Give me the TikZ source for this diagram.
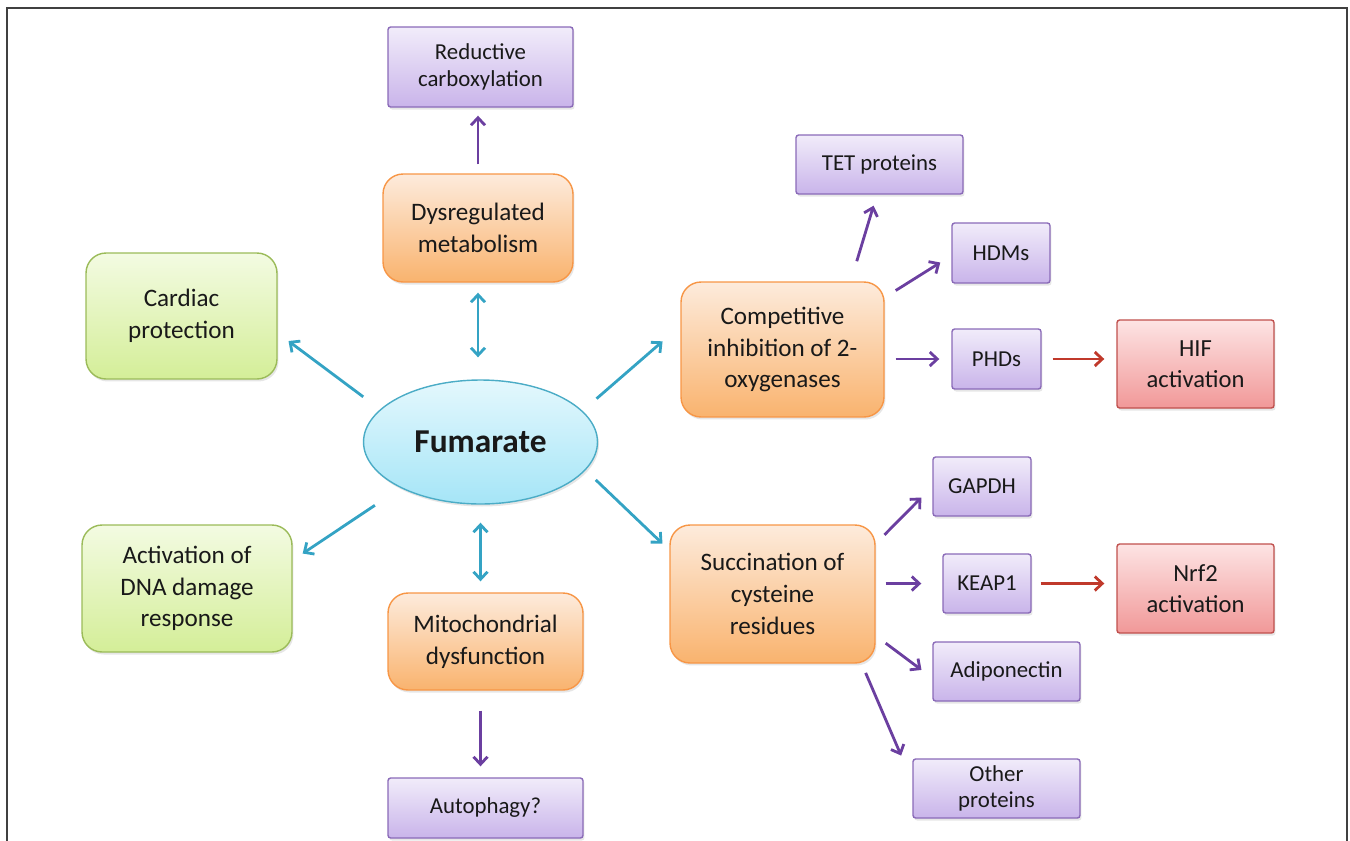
\documentclass[tikz,border=0pt]{standalone}
\usepackage{fontspec}
\setmainfont{Carlito}
\usetikzlibrary{arrows.meta,shapes.geometric,shadows}

\definecolor{purpleline}{HTML}{8A6AB8}
\definecolor{purpletop}{HTML}{F1ECFA}
\definecolor{purplebot}{HTML}{C9B4EA}
\definecolor{orangeline}{HTML}{F79646}
\definecolor{orangetop}{HTML}{FDEBDC}
\definecolor{orangebot}{HTML}{F9B36E}
\definecolor{greenline}{HTML}{9BBB59}
\definecolor{greentop}{HTML}{F3FBE2}
\definecolor{greenbot}{HTML}{D4EE98}
\definecolor{redline}{HTML}{C0504D}
\definecolor{redtop}{HTML}{FDE4E4}
\definecolor{redbot}{HTML}{F19898}
\definecolor{fumline}{HTML}{4BACC6}
\definecolor{fumtop}{HTML}{E4F8FD}
\definecolor{fumbot}{HTML}{A5E5F7}
\definecolor{arrowteal}{HTML}{34A3C4}
\definecolor{arrowpurple}{HTML}{6B3FA0}
\definecolor{arrowred}{HTML}{C0392B}

\begin{document}
\begin{tikzpicture}[x=0.02cm,y=-0.02cm,
	>={Straight Barb[length=1.5mm,width=2.8mm]},
	box/.style={draw,line width=0.8pt,align=center,inner sep=0pt,text=black!90,
		drop shadow={shadow xshift=0.03cm,shadow yshift=-0.05cm,opacity=0.2}},
	purplebox/.style={box,draw=purpleline,top color=purpletop,bottom color=purplebot,
		rounded corners=1.5pt,font=\fontsize{13}{15}\selectfont},
	orangebox/.style={box,draw=orangeline,top color=orangetop,bottom color=orangebot,
		rounded corners=0.4cm,font=\fontsize{14.3}{18}\selectfont},
	greenbox/.style={box,draw=greenline,top color=greentop,bottom color=greenbot,
		rounded corners=0.4cm,font=\fontsize{14.3}{18}\selectfont},
	redbox/.style={box,draw=redline,top color=redtop,bottom color=redbot,
		rounded corners=1.5pt,font=\fontsize{14}{18}\selectfont},
	tealarrow/.style={->,arrowteal,line width=1.6pt},
	purplearrow/.style={->,arrowpurple,line width=1.6pt},
	redarrow/.style={->,arrowred,line width=1.6pt}]
	\useasboundingbox (0,0) rectangle (1350,840);
	\draw[black!75,line width=1pt] (7,850) -- (7,8) -- (1347,8) -- (1347,850);

	\node[shape=ellipse,box,draw=fumline,top color=fumtop,bottom color=fumbot,minimum width=4.68cm,minimum height=2.48cm,font=\fontsize{19}{22}\selectfont\bfseries] (fum) at (480.5,442) {Fumarate};
	\node[orangebox,minimum width=3.8cm,minimum height=2.16cm] (dys) at (478,228) {Dysregulated\\metabolism};
	\node[purplebox,minimum width=3.7cm,minimum height=1.6cm] (rc) at (480.5,67) {Reductive\\carboxylation};
	\node[greenbox,minimum width=3.82cm,minimum height=2.52cm] (card) at (181.5,316) {Cardiac\\protection};
	\node[greenbox,minimum width=4.2cm,minimum height=2.54cm] (dna) at (187,588.5) {Activation of\\DNA damage\\response};
	\node[orangebox,minimum width=3.9cm,minimum height=1.94cm] (mito) at (485.5,641.5) {Mitochondrial\\dysfunction};
	\node[purplebox,minimum width=3.9cm,minimum height=1.2cm] (auto) at (485.5,808) {Autophagy?};
	\node[orangebox,minimum width=4.06cm,minimum height=2.7cm] (comp) at (782.5,349.5) {Competitive\\inhibition of 2-\\oxygenases};
	\node[purplebox,minimum width=3.34cm,minimum height=1.18cm] (tet) at (879.5,164.5) {TET proteins};
	\node[purplebox,minimum width=1.96cm,minimum height=1.2cm] (hdm) at (1001,253) {HDMs};
	\node[purplebox,minimum width=1.78cm,minimum height=1.2cm] (phd) at (996.5,359) {PHDs};
	\node[redbox,minimum width=3.14cm,minimum height=1.76cm] (hif) at (1195.5,364) {HIF\\activation};
	\node[orangebox,minimum width=4.1cm,minimum height=2.76cm] (succ) at (772.5,594) {Succination of\\cysteine\\residues};
	\node[purplebox,minimum width=1.96cm,minimum height=1.18cm] (gapdh) at (982,486.5) {GAPDH};
	\node[purplebox,minimum width=1.76cm,minimum height=1.18cm] (keap) at (987,583.5) {KEAP1};
	\node[redbox,minimum width=3.14cm,minimum height=1.78cm] (nrf) at (1195.5,588.5) {Nrf2\\activation};
	\node[purplebox,minimum width=2.94cm,minimum height=1.18cm] (adipo) at (1006.5,671.5) {Adiponectin};
	\node[purplebox,minimum width=3.34cm,minimum height=1.18cm] (other) at (996.5,788.5) {Other\\proteins};

	\path[tealarrow,<->] (dys.south |- fum.north) edge[shorten <=0.44cm,shorten >=0.2cm] (dys.south);
	\path[tealarrow,<->] (fum.south) edge[shorten <=0.36cm,shorten >=0.22cm] (fum.south |- mito.north);
	\path[tealarrow] (fum.162.6) edge[shorten <=0.42cm,shorten >=0.27cm] (card.-10.6);
	\path[tealarrow] (fum.210.9) edge[shorten <=0.62cm,shorten >=0.24cm] (dna.15.5);
	\path[tealarrow] (fum.17.8) edge[shorten <=0.37cm,shorten >=0.47cm] (comp.167.6);
	\path[tealarrow] (fum.-15.1) edge[shorten <=0.28cm,shorten >=0.19cm] (succ.157.6);
	\path[purplearrow] (dys.north) edge[shorten <=0.18cm,shorten >=0.16cm] (dys.north |- rc.south);
	\path[purplearrow] (mito.south -| fum.south) edge[shorten <=0.4cm,shorten >=0.22cm] (auto.north -| fum.south);
	\path[purplearrow] (comp.45.6) edge[shorten <=0.42cm,shorten >=0.23cm] (tet.-95.8);
	\path[purplearrow] (comp.27) edge[shorten <=0.26cm,shorten >=0.26cm] (hdm.183.9);
	\path[purplearrow] (phd.west -| comp.east) edge[shorten <=0.22cm,shorten >=0.24cm] (phd.west);
	\path[redarrow] (phd.east) edge[shorten <=0.22cm,shorten >=0.24cm] (phd.east -| hif.west);
	\path[purplearrow] (succ.26) edge[shorten <=0.25cm,shorten >=0.31cm] (gapdh.west);
	\path[purplearrow] (keap.west -| succ.east) edge[shorten <=0.2cm,shorten >=0.42cm] (keap.west);
	\path[redarrow] (keap.east) edge[shorten <=0.18cm,shorten >=0.24cm] (keap.east -| nrf.west);
	\path[purplearrow] (succ.-22.1) edge[shorten <=0.25cm,shorten >=0.27cm] (adipo.185);
	\path[purplearrow] (succ.-38) edge[shorten <=0.2cm,shorten >=0.06cm] ([xshift=-0.2cm]other.north west);
\end{tikzpicture}
\end{document}
